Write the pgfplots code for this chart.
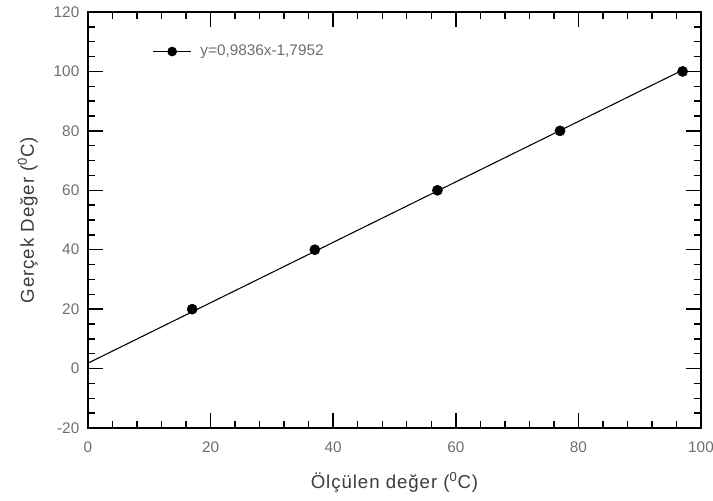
\documentclass[border=0pt]{standalone}
\usepackage{pgfplots}
\pgfplotsset{compat=1.18}
\usepackage{fontspec}
\setmainfont{Liberation Sans}
\newfontfamily\labelfont[LetterSpace=5]{Liberation Sans}
\definecolor{ticktext}{HTML}{6E6E6E}
\definecolor{labeltext}{HTML}{3C3C3C}

\begin{document}
\begin{tikzpicture}[x=0.75pt,y=0.75pt]
% fixed canvas around the axis
\useasboundingbox (-88,-72) rectangle (625,428);
\begin{axis}[
  at={(0,0)}, anchor=south west,
  scale only axis,
  width=459.75pt, height=312pt,
  xmin=0, xmax=100, ymin=-20, ymax=120,
  xtick={0,20,...,100}, ytick={-20,0,...,120},
  minor x tick num=4, minor y tick num=3,
  tick align=inside,
  major tick length=11.5pt, minor tick length=5pt,
  every tick/.style={black, line width=1.1pt},
  axis line style={line width=1.6pt},
  xtick pos=both, ytick pos=both,
  xticklabel pos=left, yticklabel pos=left,
  /pgf/number format/assume math mode=true,
  ticklabel style={font=\fontsize{11.5}{13}\selectfont, text=ticktext},
  xticklabel style={yshift=-7pt},
  yticklabel style={xshift=-3pt},
  xlabel={Ölçülen değer (\textsuperscript{0}C)},
  ylabel={Gerçek Değer (\textsuperscript{0}C)},
  label style={font=\labelfont\fontsize{14}{16}\selectfont, text=labeltext},
  xlabel style={yshift=-7.5pt},
  ylabel style={yshift=5pt},
  legend style={at={(0.099,0.905)}, anchor=west, draw=none, fill=none,
    font=\fontsize{11.5}{13}\selectfont, text=ticktext},
  legend cell align=left,
  clip=false,
]
% measured points
\addplot[only marks, mark=*, mark size=3.8pt, black,
  legend image code/.code={
    \draw[black, line width=0.8pt] (0pt,0pt) -- (28pt,0pt);
    \fill[black] (14pt,0pt) circle (3.4pt);
    \path (33pt,0pt);
  }] coordinates {
  (17,20) (37,40) (57,60) (77,80) (97,100)
};
\addlegendentry{y=0,9836x-1,7952}
% fitted line
\addplot[black, line width=0.8pt, forget plot] coordinates {
  (0,1.83) (97,100.44)
};
\end{axis}
\end{tikzpicture}
\end{document}
